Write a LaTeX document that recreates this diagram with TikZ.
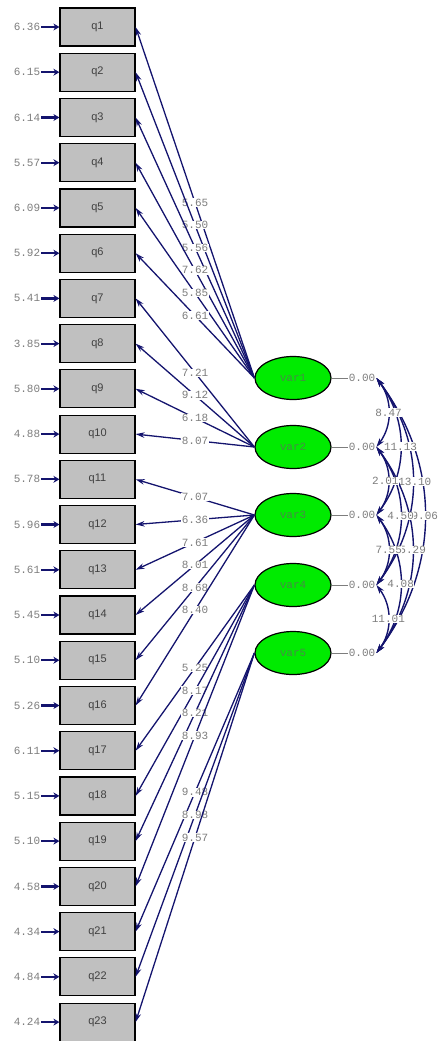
\documentclass[tikz,border=0pt]{standalone}
\usepackage{fontspec}
\setmonofont{Liberation Mono}
\setsansfont{Liberation Sans}
\usepackage{tikz}
\usetikzlibrary{arrows,arrows.meta,positioning,calc,shapes.geometric}
\definecolor{navyline}{RGB}{20,20,110}
\definecolor{labgray}{RGB}{125,125,125}
\definecolor{boxgray}{RGB}{192,192,192}
\definecolor{latgreen}{RGB}{0,235,0}
\definecolor{vartext}{RGB}{70,140,70}
\tikzset{
  obs/.style={draw=black, line width=1.2pt, fill=boxgray, minimum width=75pt, minimum height=38pt, inner sep=0pt, text=black!75, font=\sffamily\fontsize{11}{11}\selectfont},
  lat/.style={ellipse, draw=black, line width=1.2pt, fill=latgreen, minimum width=76pt, minimum height=43pt, inner sep=0pt, text=vartext, font=\ttfamily\fontsize{11}{11}\selectfont},
  num/.style={text=labgray, font=\ttfamily\fontsize{11}{11}\selectfont, inner sep=1pt},
  lab/.style={num, fill=white, inner sep=0.5pt},
  errarr/.style={draw=navyline, line width=2.2pt, -{Stealth[length=6pt,width=7pt]}},
  load/.style={draw=navyline, line width=1.3pt, -{Stealth[length=9pt,width=5.5pt]}},
  cov/.style={draw=navyline, line width=1.4pt, {Stealth[length=9pt,width=5.5pt]}-{Stealth[length=9pt,width=5.5pt]}},
  zline/.style={draw=labgray, line width=0.6pt}
}

\begin{document}
\begin{tikzpicture}[x=1pt,y=-1pt]
    \useasboundingbox (0,0) rectangle (445,1041);
    % observed items
    \node [obs] (q1) at (97.5,27) {q1};
    \node [obs] (q2) at (97.5,72.2) {q2};
    \node [obs] (q3) at (97.5,117.5) {q3};
    \node [obs] (q4) at (97.5,162.7) {q4};
    \node [obs] (q5) at (97.5,207.9) {q5};
    \node [obs] (q6) at (97.5,253.2) {q6};
    \node [obs] (q7) at (97.5,298.4) {q7};
    \node [obs] (q8) at (97.5,343.6) {q8};
    \node [obs] (q9) at (97.5,388.8) {q9};
    \node [obs] (q10) at (97.5,434.1) {q10};
    \node [obs] (q11) at (97.5,479.3) {q11};
    \node [obs] (q12) at (97.5,524.5) {q12};
    \node [obs] (q13) at (97.5,569.8) {q13};
    \node [obs] (q14) at (97.5,615.0) {q14};
    \node [obs] (q15) at (97.5,660.2) {q15};
    \node [obs] (q16) at (97.5,705.5) {q16};
    \node [obs] (q17) at (97.5,750.7) {q17};
    \node [obs] (q18) at (97.5,795.9) {q18};
    \node [obs] (q19) at (97.5,841.1) {q19};
    \node [obs] (q20) at (97.5,886.4) {q20};
    \node [obs] (q21) at (97.5,931.6) {q21};
    \node [obs] (q22) at (97.5,976.8) {q22};
    \node [obs] (q23) at (97.5,1022.1) {q23};

    % error variances
    \node [num] (e1) at (27,27) {6.36};
    \node [num] (e2) at (27,72.2) {6.15};
    \node [num] (e3) at (27,117.5) {6.14};
    \node [num] (e4) at (27,162.7) {5.57};
    \node [num] (e5) at (27,207.9) {6.09};
    \node [num] (e6) at (27,253.2) {5.92};
    \node [num] (e7) at (27,298.4) {5.41};
    \node [num] (e8) at (27,343.6) {3.85};
    \node [num] (e9) at (27,388.8) {5.80};
    \node [num] (e10) at (27,434.1) {4.88};
    \node [num] (e11) at (27,479.3) {5.78};
    \node [num] (e12) at (27,524.5) {5.96};
    \node [num] (e13) at (27,569.8) {5.61};
    \node [num] (e14) at (27,615.0) {5.45};
    \node [num] (e15) at (27,660.2) {5.10};
    \node [num] (e16) at (27,705.5) {5.26};
    \node [num] (e17) at (27,750.7) {6.11};
    \node [num] (e18) at (27,795.9) {5.15};
    \node [num] (e19) at (27,841.1) {5.10};
    \node [num] (e20) at (27,886.4) {4.58};
    \node [num] (e21) at (27,931.6) {4.34};
    \node [num] (e22) at (27,976.8) {4.84};
    \node [num] (e23) at (27,1022.1) {4.24};
    \draw [errarr] (e1) -- (q1);
    \draw [errarr] (e2) -- (q2);
    \draw [errarr] (e3) -- (q3);
    \draw [errarr] (e4) -- (q4);
    \draw [errarr] (e5) -- (q5);
    \draw [errarr] (e6) -- (q6);
    \draw [errarr] (e7) -- (q7);
    \draw [errarr] (e8) -- (q8);
    \draw [errarr] (e9) -- (q9);
    \draw [errarr] (e10) -- (q10);
    \draw [errarr] (e11) -- (q11);
    \draw [errarr] (e12) -- (q12);
    \draw [errarr] (e13) -- (q13);
    \draw [errarr] (e14) -- (q14);
    \draw [errarr] (e15) -- (q15);
    \draw [errarr] (e16) -- (q16);
    \draw [errarr] (e17) -- (q17);
    \draw [errarr] (e18) -- (q18);
    \draw [errarr] (e19) -- (q19);
    \draw [errarr] (e20) -- (q20);
    \draw [errarr] (e21) -- (q21);
    \draw [errarr] (e22) -- (q22);
    \draw [errarr] (e23) -- (q23);

    % latent variables
    \node [lat] (var1) at (293,378) {var1};
    \node [lat] (var2) at (293,447) {var2};
    \node [lat] (var3) at (293,515) {var3};
    \node [lat] (var4) at (293,585) {var4};
    \node [lat] (var5) at (293,653) {var5};

    % loadings
    \draw [load] (var1.west) -- node [lab] {5.65} (q1.east);
    \draw [load] (var1.west) -- node [lab] {5.50} (q2.east);
    \draw [load] (var1.west) -- node [lab] {5.56} (q3.east);
    \draw [load] (var1.west) -- node [lab] {7.62} (q4.east);
    \draw [load] (var1.west) -- node [lab] {5.85} (q5.east);
    \draw [load] (var1.west) -- node [lab] {6.61} (q6.east);
    \draw [load] (var2.west) -- node [lab] {7.21} (q7.east);
    \draw [load] (var2.west) -- node [lab] {9.12} (q8.east);
    \draw [load] (var2.west) -- node [lab] {6.18} (q9.east);
    \draw [load] (var2.west) -- node [lab] {8.07} (q10.east);
    \draw [load] (var3.west) -- node [lab] {7.07} (q11.east);
    \draw [load] (var3.west) -- node [lab] {6.36} (q12.east);
    \draw [load] (var3.west) -- node [lab] {7.61} (q13.east);
    \draw [load] (var3.west) -- node [lab] {8.01} (q14.east);
    \draw [load] (var3.west) -- node [lab] {8.68} (q15.east);
    \draw [load] (var3.west) -- node [lab] {8.40} (q16.east);
    \draw [load] (var4.west) -- node [lab] {5.25} (q17.east);
    \draw [load] (var4.west) -- node [lab] {8.17} (q18.east);
    \draw [load] (var4.west) -- node [lab] {8.21} (q19.east);
    \draw [load] (var4.west) -- node [lab] {8.93} (q20.east);
    \draw [load] (var5.west) -- node [lab] {9.48} (q21.east);
    \draw [load] (var5.west) -- node [lab] {8.98} (q22.east);
    \draw [load] (var5.west) -- node [lab] {9.57} (q23.east);

    % latent variances
    \node [num] (z1) at (362,378) {0.00};
    \node [num] (z2) at (362,447) {0.00};
    \node [num] (z3) at (362,515) {0.00};
    \node [num] (z4) at (362,585) {0.00};
    \node [num] (z5) at (362,653) {0.00};
    \draw [zline] (var1) -- (z1);
    \draw [zline] (var2) -- (z2);
    \draw [zline] (var3) -- (z3);
    \draw [zline] (var4) -- (z4);
    \draw [zline] (var5) -- (z5);

    % covariances
    \draw [cov] (z1.east) to [bend left=37] node [lab] {9.06} (z5.east);
    \draw [cov] (z1.east) to [bend left=37] node [lab, xshift=2pt] {13.10} (z4.east);
    \draw [cov] (z2.east) to [bend left=37] node [lab] {5.29} (z5.east);
    \draw [cov] (z1.east) to [bend left=37] node [lab] {11.13} (z3.east);
    \draw [cov] (z2.east) to [bend left=37] node [lab] {4.50} (z4.east);
    \draw [cov] (z3.east) to [bend left=37] node [lab] {4.08} (z5.east);
    \draw [cov] (z1.east) to [bend left=37] node [lab] {8.47} (z2.east);
    \draw [cov] (z2.east) to [bend left=37] node [lab, xshift=-3pt] {2.01} (z3.east);
    \draw [cov] (z3.east) to [bend left=37] node [lab] {7.55} (z4.east);
    \draw [cov] (z4.east) to [bend left=37] node [lab] {11.01} (z5.east);
\end{tikzpicture}
\end{document}
